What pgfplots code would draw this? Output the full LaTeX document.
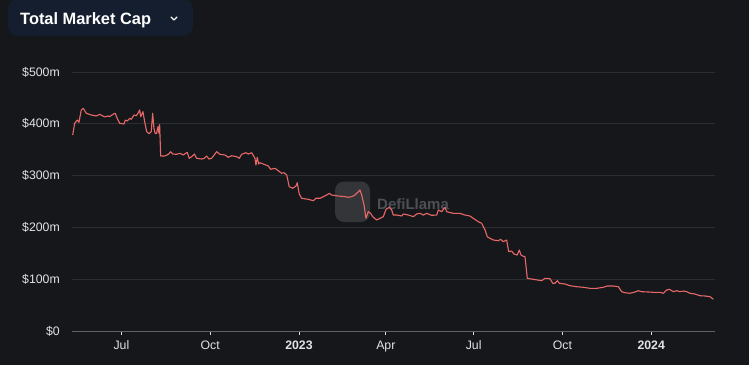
\documentclass[border=0pt]{standalone}
\usepackage{fontspec}
\setmainfont{Liberation Sans}
\usepackage{pgfplots}
\pgfplotsset{compat=1.18}
\definecolor{bg}{RGB}{22,23,27}
\definecolor{btn}{RGB}{20,30,47}
\definecolor{gridc}{RGB}{44,45,50}
\definecolor{axisc}{RGB}{95,97,102}
\definecolor{tickc}{RGB}{215,215,218}
\definecolor{labc}{RGB}{226,226,229}
\definecolor{linec}{RGB}{232,104,104}
\definecolor{wmlogo}{RGB}{52,53,57}
\definecolor{wmtext}{RGB}{78,79,84}
\begin{document}
\begin{tikzpicture}[x=1pt,y=1pt]
\useasboundingbox (0,0) rectangle (749,365);
\fill[bg] (0,0) rectangle (749,365);
\fill[btn, rounded corners=10pt] (8,329) rectangle (193,366);
\node[anchor=base west, inner sep=0pt, text=white, font=\bfseries\fontsize{16.4}{18}\selectfont] at (20,340) {Total Market Cap};
\draw[white, line width=1.4pt, line cap=round, line join=round] (171,348) -- (174,345) -- (177,348);
% watermark
\fill[wmlogo, rounded corners=9pt] (335,143) rectangle (370,183.5);
\node[anchor=base west, inner sep=0pt, text=wmtext, font=\bfseries\fontsize{15}{15}\selectfont] at (377,156) {DefiLlama};
\begin{axis}[
  at={(72pt,34pt)}, anchor=south west,
  width=643pt, height=259pt, scale only axis,
  xmin=-235.2, xmax=431.1, ymin=0, ymax=500,
  axis x line*=bottom, axis y line*=left,
  y axis line style={draw=none},
  x axis line style={-, color=axisc, line width=1pt},
  ytick={0,100,200,300,400,500},
  yticklabels={\$0,\$100m,\$200m,\$300m,\$400m,\$500m},
  ymajorgrids, grid style={color=gridc, line width=0.8pt},
  ytick style={draw=none},
  xtick={-184,-92,0,90,181,273,365},
  xticklabels={Jul,Oct,\textbf{2023},Apr,Jul,Oct,\textbf{2024}},
  xtick style={color=tickc, line width=0.9pt},
  major tick length=4pt, tick align=outside,
  ticklabel style={font=\fontsize{12.3}{14}\selectfont, text=labc, inner sep=0pt},
  yticklabel style={anchor=east, xshift=-8pt},
  xticklabel style={anchor=north, yshift=-5.5pt},
  clip=false,
]
\addplot[color=linec, line width=1.1pt, line join=round] table {
-234.5 378.4
-232.4 401.0
-229.7 407.3
-228.0 402.9
-225.6 426.6
-223.5 429.9
-220.4 420.3
-215.2 417.0
-210.1 415.1
-206.5 418.3
-201.4 413.2
-197.9 415.1
-196.2 413.7
-192.8 418.3
-190.4 420.3
-188.3 410.6
-185.8 401.0
-181.4 399.6
-180.0 407.3
-177.9 405.4
-175.4 410.6
-173.8 408.7
-171.0 417.0
-168.6 415.6
-166.8 420.3
-165.1 426.6
-164.0 413.7
-161.7 423.4
-159.9 404.1
-157.8 384.8
-155.4 380.9
-153.1 384.8
-151.6 420.3
-150.3 391.3
-148.9 380.9
-147.5 381.7
-146.1 394.4
-145.1 381.7
-144.4 398.7
-143.3 337.8
-139.2 337.8
-135.4 341.1
-132.9 346.1
-130.9 341.7
-126.7 341.1
-123.3 343.1
-119.9 339.8
-115.8 345.0
-113.7 333.4
-111.2 336.5
-108.5 341.7
-106.0 333.4
-100.8 332.0
-98.1 333.4
-95.7 337.8
-93.3 332.0
-90.5 333.4
-85.3 346.1
-81.9 341.1
-76.7 339.8
-73.3 335.3
-69.7 338.4
-64.6 336.5
-61.9 333.4
-59.4 341.1
-54.9 344.2
-52.5 341.7
-49.0 344.2
-45.6 333.4
-44.6 320.5
-43.2 335.3
-41.8 322.4
-40.4 324.9
-37.0 322.4
-31.8 318.5
-29.3 312.2
-24.9 314.1
-21.5 309.5
-17.9 304.4
-15.5 305.6
-12.7 301.2
-10.1 278.6
-6.5 275.5
-3.1 279.9
-1.8 286.3
0.3 264.5
2.8 256.2
9.6 254.2
14.8 251.5
17.6 256.2
21.8 256.2
25.2 259.3
28.7 262.5
31.4 265.8
33.9 262.5
40.7 260.6
47.7 259.3
51.1 258.1
54.6 259.3
58.0 262.5
61.5 268.9
63.2 272.2
65.0 262.5
67.4 243.2
69.4 217.6
71.8 230.3
74.3 227.2
76.4 220.7
80.5 214.3
83.9 217.6
87.4 220.7
90.2 234.9
93.6 238.8
96.1 233.6
97.7 223.9
101.2 223.9
106.4 222.0
108.1 225.9
113.3 223.9
118.5 220.7
122.0 225.9
125.4 227.2
128.8 223.9
132.3 227.2
137.5 223.3
142.7 223.9
144.4 233.6
147.9 230.3
151.3 238.8
153.1 230.3
159.9 227.2
166.8 227.2
172.0 223.9
177.2 222.0
180.6 217.6
185.8 211.0
189.3 207.9
192.8 195.0
195.1 182.0
197.9 179.0
201.4 175.7
206.5 174.3
209.0 177.0
211.7 172.4
215.2 175.7
217.3 153.1
220.4 154.4
222.8 148.6
226.2 146.7
228.3 156.4
230.1 146.7
231.8 144.8
234.2 143.4
236.6 101.7
242.8 99.8
251.5 97.1
254.9 101.7
260.1 101.0
262.9 92.1
265.3 92.1
267.7 97.1
269.8 92.1
275.7 90.7
280.8 87.5
287.8 85.5
294.6 84.4
301.6 82.4
308.5 82.4
315.4 84.4
319.5 86.9
325.7 86.9
330.9 85.5
334.4 75.9
337.8 73.9
343.0 72.8
348.2 75.3
351.6 77.8
355.1 75.9
362.0 75.3
367.2 74.7
374.1 74.7
377.5 72.8
381.1 79.2
383.8 80.5
387.9 75.9
391.4 77.8
394.8 75.9
398.3 77.2
401.8 75.9
405.2 72.8
410.4 71.4
415.6 68.1
420.8 67.6
426.0 66.2
429.4 61.2
};
\end{axis}
\end{tikzpicture}
\end{document}
